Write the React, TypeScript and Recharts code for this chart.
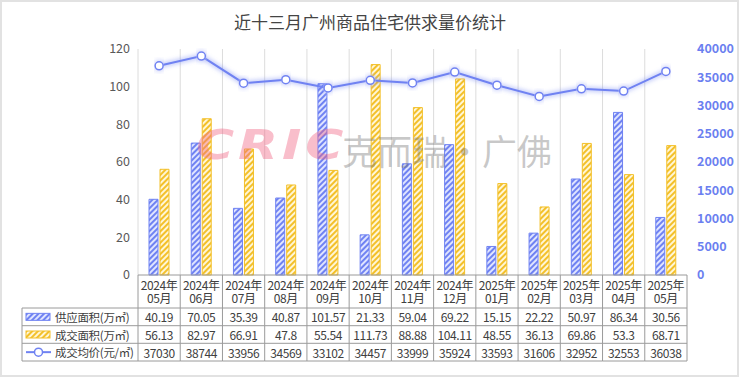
import React from "react";
import { ComposedChart, Bar, Line, XAxis, YAxis, CartesianGrid } from "recharts";

// 近十三月广州商品住宅供求量价统计
const months = [
  "2024年05月", "2024年06月", "2024年07月", "2024年08月", "2024年09月", "2024年10月", "2024年11月",
  "2024年12月", "2025年01月", "2025年02月", "2025年03月", "2025年04月", "2025年05月",
];
const supply = [40.19, 70.05, 35.39, 40.87, 101.57, 21.33, 59.04, 69.22, 15.15, 22.22, 50.97, 86.34, 30.56];
const deal = [56.13, 82.97, 66.91, 47.8, 55.54, 111.73, 88.88, 104.11, 48.55, 36.13, 69.86, 53.3, 68.71];
const price = [37030, 38744, 33956, 34569, 33102, 34457, 33999, 35924, 33593, 31606, 32952, 32553, 36038];
const seriesNames = ["供应面积(万㎡)", "成交面积(万㎡)", "成交均价(元/㎡)"];
const leftTicks = [0, 20, 40, 60, 80, 100, 120];
const rightTicks = [0, 5000, 10000, 15000, 20000, 25000, 30000, 35000, 40000];

const data = months.map((m, i) => ({ month: m, supply: supply[i], deal: deal[i], price: price[i] }));

const W = 740;
const H = 385;
const LEFT_W = 138;
const RIGHT_W = 53;
const TOP = 49;
const X_H = 110;
const PLOT_W = W - LEFT_W - RIGHT_W;
const COL_W = PLOT_W / months.length;
const FONT = "'Noto Sans CJK SC', 'Noto Sans', sans-serif";

const BLUE = "#6f82f2";
const YELLOW = "#f3c02a";
const BORDER = "#9a9a9a";
const TXT = "#404040";

// table rows (y positions below the plot)
const T0 = H - X_H;
const T1 = 308;
const T2 = 325.7;
const T3 = 343.3;
const T4 = 361;
const rowValues = [supply, deal, price];

function Swatch({ row }: { row: number }) {
  const cy = [(T1 + T2) / 2, (T2 + T3) / 2, (T3 + T4) / 2][row];
  if (row === 2) {
    return (
      <g>
        <line x1={26} x2={51} y1={cy} y2={cy} stroke={BLUE} strokeWidth={2} />
        <circle cx={38.5} cy={cy} r={4} fill="#fff" stroke={BLUE} strokeWidth={1.5} />
      </g>
    );
  }
  return (
    <rect
      x={26}
      y={cy - 3.5}
      width={24}
      height={7}
      fill={row === 0 ? "url(#hatchBlue)" : "url(#hatchYellow)"}
      stroke={row === 0 ? BLUE : YELLOW}
      strokeWidth={1}
    />
  );
}

function TableTick(props: any) {
  const { x, payload, index } = props;
  const left = x - COL_W / 2;
  const right = x + COL_W / 2;
  const label: string = payload.value;
  const rowsY = [(T1 + T2) / 2, (T2 + T3) / 2, (T3 + T4) / 2];
  const cell = { textAnchor: "middle" as const, dominantBaseline: "central" as const, fontSize: 12, fill: TXT, letterSpacing: -0.4 };
  return (
    <g fontFamily={FONT}>
      <line x1={left} x2={left} y1={T0} y2={T4} stroke={BORDER} />
      {index === months.length - 1 && <line x1={right} x2={right} y1={T0} y2={T4} stroke={BORDER} />}
      {[T1, T2, T3, T4].map((yy) => (
        <line key={yy} x1={left} x2={right} y1={yy} y2={yy} stroke={BORDER} />
      ))}
      <text x={x} y={289.5} textAnchor="middle" fontSize={12} fill={TXT} letterSpacing={-0.4}>
        <tspan x={x}>{label.slice(0, 5)}</tspan>
        <tspan x={x} dy={13.5}>
          {label.slice(5)}
        </tspan>
      </text>
      {rowValues.map((vals, r) => (
        <text key={r} x={x} y={rowsY[r]} {...cell}>
          {vals[index]}
        </text>
      ))}
      {index === 0 && (
        <g>
          <line x1={22} x2={22} y1={T1} y2={T4} stroke={BORDER} />
          {[T1, T2, T3, T4].map((yy) => (
            <line key={yy} x1={22} x2={left} y1={yy} y2={yy} stroke={BORDER} />
          ))}
          {seriesNames.map((n, r) => (
            <g key={n}>
              <Swatch row={r} />
              <text x={55} y={rowsY[r]} dominantBaseline="central" fontSize={11.5} letterSpacing={-0.3} fill={TXT}>
                {n}
              </text>
            </g>
          ))}
        </g>
      )}
    </g>
  );
}

export default function App() {
  return (
    <div style={{ position: "absolute", left: 0, top: 0, width: W, height: H, background: "#fff", fontFamily: FONT }}>
      <div
        style={{
          position: "absolute",
          left: 0,
          top: 0,
          width: 739,
          height: 377,
          border: "2px solid #e2e2e2",
          boxSizing: "border-box",
        }}
      />
      <div
        style={{
          position: "absolute",
          left: 0,
          width: W,
          top: 9,
          textAlign: "center",
          fontSize: 17,
          color: "#444",
        }}
      >
        近十三月广州商品住宅供求量价统计
      </div>
      <ComposedChart
        width={W}
        height={H}
        data={data}
        margin={{ top: TOP, right: 0, left: 0, bottom: 0 }}
        barSize={9}
        barGap={2}
        style={{ position: "absolute", left: 0, top: 0 }}
      >
        <defs>
          <pattern id="hatchBlue" width="4" height="4" patternUnits="userSpaceOnUse" patternTransform="rotate(45)">
            <rect width="4" height="4" fill="#dfe4ff" />
            <rect width="2" height="4" fill={BLUE} />
          </pattern>
          <pattern id="hatchYellow" width="4" height="4" patternUnits="userSpaceOnUse" patternTransform="rotate(45)">
            <rect width="4" height="4" fill="#fff6d6" />
            <rect width="2" height="4" fill={YELLOW} />
          </pattern>
          <filter id="glow" x="-10%" y="-50%" width="120%" height="200%">
            <feGaussianBlur in="SourceGraphic" stdDeviation="2.5" result="b" />
            <feMerge>
              <feMergeNode in="b" />
              <feMergeNode in="SourceGraphic" />
            </feMerge>
          </filter>
        </defs>
        <CartesianGrid
          horizontal={false}
          stroke="#dcdcdc"
          verticalCoordinatesGenerator={({ offset }: any) =>
            months.map((_, i) => offset.left + (i * offset.width) / months.length)
          }
        />
        <XAxis
          dataKey="month"
          height={X_H}
          axisLine={{ stroke: BORDER }}
          tickLine={false}
          interval={0}
          tick={<TableTick />}
        />
        <YAxis
          yAxisId="left"
          width={LEFT_W}
          domain={[0, 120]}
          ticks={leftTicks}
          axisLine={false}
          tickLine={false}
          tick={{ fontSize: 12.5, fill: "#595959", fontFamily: FONT }}
        />
        <YAxis
          yAxisId="right"
          orientation="right"
          width={RIGHT_W}
          domain={[0, 40000]}
          ticks={rightTicks}
          axisLine={false}
          tickLine={false}
          tickMargin={4}
          tick={{ fontSize: 12.5, fill: "#6b7ff0", fontWeight: 600, fontFamily: FONT, textAnchor: "start" }}
        />
        <Bar yAxisId="left" dataKey="supply" fill="url(#hatchBlue)" stroke={BLUE} strokeWidth={1} isAnimationActive={false} />
        <Bar yAxisId="left" dataKey="deal" fill="url(#hatchYellow)" stroke={YELLOW} strokeWidth={1} isAnimationActive={false} />
        <Line
          yAxisId="right"
          dataKey="price"
          type="linear"
          stroke={BLUE}
          strokeWidth={2}
          filter="url(#glow)"
          dot={{ r: 4, fill: "#fff", stroke: BLUE, strokeWidth: 1.5 }}
          isAnimationActive={false}
        />
      </ComposedChart>
      <div
        style={{
          position: "absolute",
          left: 196,
          top: 122,
          fontSize: 40,
          fontWeight: 900,
          fontStyle: "italic",
          color: "rgba(240,100,130,0.42)",
          letterSpacing: 3,
          fontFamily: "'DejaVu Sans', sans-serif",
          transform: "scaleX(1.3)",
          transformOrigin: "left top",
          pointerEvents: "none",
        }}
      >
        CRIC
      </div>
      <div
        style={{
          position: "absolute",
          left: 342,
          top: 124,
          fontSize: 35,
          color: "rgba(110,110,110,0.38)",
          pointerEvents: "none",
          whiteSpace: "nowrap",
        }}
      >
        克而瑞·广佛
      </div>
    </div>
  );
}
